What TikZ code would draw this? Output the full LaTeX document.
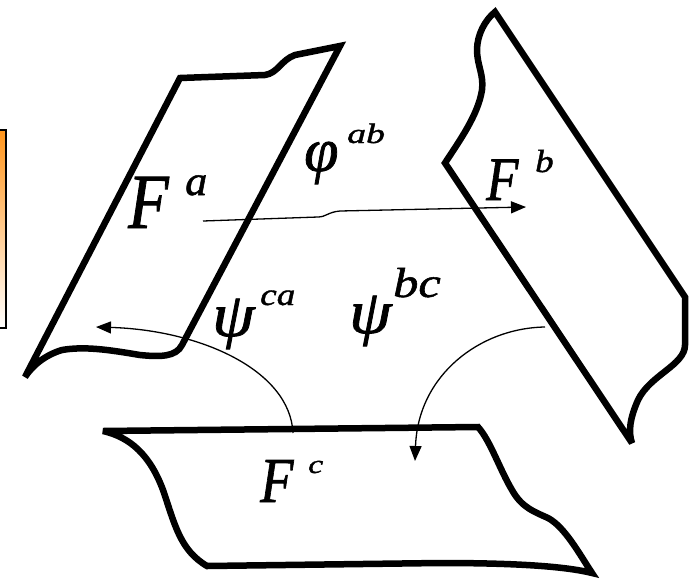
\documentclass[tikz,border=0pt]{standalone}
\usepackage{fontspec}
\setmainfont{Liberation Serif}[ItalicFeatures={FakeBold=1.2}]
\usetikzlibrary{arrows.meta}
\definecolor{BoxOrange}{HTML}{FF951C}
\tikzset{
  sheet/.style={draw=black,line width=6.5pt,line join=miter,miter limit=3},
  maparrow/.style={-{Triangle[length=15pt,width=12pt]},draw=black,line width=1.3pt},
  symlabel/.style={inner sep=0pt,anchor=base west}
}
% #1 size, #2 x-scale, #3 base, #4 offset of sup, #5 raise, #6 sup size, #7 sup x-scale, #8 sup
\newcommand{\symsup}[8]{\rlap{\scalebox{#2}[1]{\fontsize{#1}{#1}\selectfont\itshape #3}}\kern#4\raisebox{#5}{\scalebox{#7}[1]{\fontsize{#6}{#6}\selectfont\itshape #8}}}
\begin{document}
\begin{tikzpicture}[x=1pt,y=-1pt]
  \useasboundingbox (0,0) rectangle (695,581);
  % side box
  \shade[top color=BoxOrange,bottom color=white,draw=black,line width=1.5pt]
    (-8,130) rectangle (6,328);

  % sheet F^a
  \draw[sheet] (180,78) -- (265,75) .. controls (278,73) and (281,60) .. (295,55)
    -- (340,46) -- (182,345) .. controls (176,357) and (160,357) .. (140,355)
    .. controls (110,350) and (85,346) .. (62,350)
    .. controls (45,355) and (32,366) .. (25,377) -- cycle;
  % sheet F^b
  \draw[sheet] (495,12) -- (685,297) -- (685,345)
    .. controls (685,365) and (650,375) .. (638,400)
    .. controls (630,418) and (628,432) .. (632,443) -- (445,163)
    .. controls (460,140) and (478,115) .. (482,90)
    .. controls (484,75) and (477,65) .. (477,50)
    .. controls (477,35) and (485,20) .. cycle;
  % sheet F^c
  \draw[sheet] (103,431) -- (478,427)
    .. controls (490,440) and (500,470) .. (512,490)
    .. controls (522,508) and (535,512) .. (548,518)
    .. controls (565,527) and (580,555) .. (592,573)
    .. controls (560,565) and (500,563) .. (440,563) -- (207,566)
    .. controls (180,550) and (175,525) .. (163,490)
    .. controls (150,455) and (130,437) .. cycle;

  % labels
  \node[symlabel] (Fa) at (128,228) {\symsup{78}{0.85}{F}{57pt}{33pt}{42}{1.05}{a}};
  \node[symlabel] (Fb) at (486,200) {\symsup{62}{0.85}{F}{49pt}{28pt}{32}{1.15}{b}};
  \node[symlabel] (Fc) at (260,502) {\symsup{64}{0.85}{F}{48pt}{29pt}{26}{1.3}{c}};
  \node[symlabel] (phiab) at (304,171) {\symsup{62}{1.0}{φ}{43pt}{28pt}{28}{1.35}{ab}};
  \node[symlabel] (psica) at (212,336) {\symsup{62}{1.1}{ψ}{48pt}{31pt}{31}{1.2}{ca}};
  \node[symlabel] (psibc) at (349,333) {\symsup{62}{1.1}{ψ}{44pt}{36pt}{42}{1.2}{bc}};

  % maps
  \coordinate (abstart) at (203,221);
  \coordinate (abend) at (526,207);
  \coordinate (castart) at (293,433);
  \coordinate (caend) at (96,327);
  \coordinate (bcstart) at (545,327);
  \coordinate (bcend) at (415,461);
  \draw[maparrow] (abstart) -- (318,217) .. controls (326,217) and (328,212) .. (340,211) -- (abend);
  \draw[maparrow] (castart) .. controls (290,370) and (200,330) .. (caend);
  \draw[maparrow] (bcstart) .. controls (480,328) and (418,375) .. (bcend);
\end{tikzpicture}
\end{document}
